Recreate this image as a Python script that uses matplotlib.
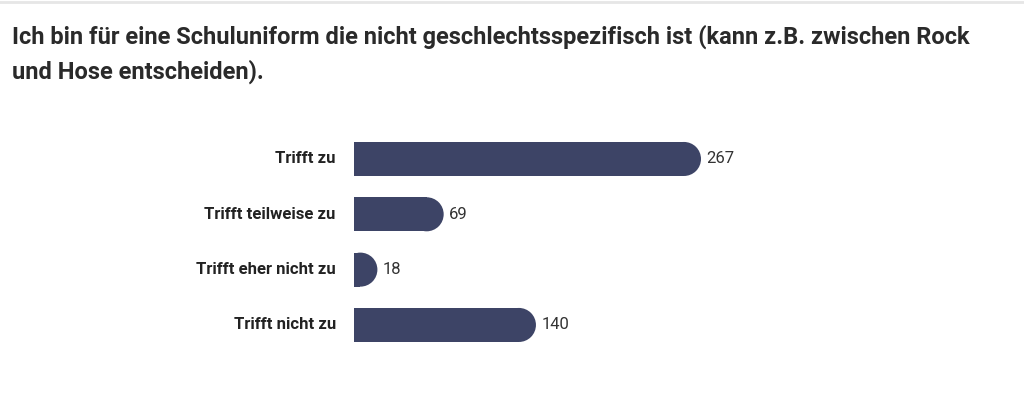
import matplotlib.pyplot as plt
from matplotlib.patches import Ellipse

categories = ["Trifft zu", "Trifft teilweise zu", "Trifft eher nicht zu", "Trifft nicht zu"]
values = [267, 69, 18, 140]
title = "Ich bin für eine Schuluniform die nicht geschlechtsspezifisch ist (kann z.B. zwischen Rock\nund Hose entscheiden)."

bar_color = "#3d4466"
plt.rcParams['font.family'] = ['Roboto', 'DejaVu Sans']

W, H = 1024, 395
fig = plt.figure(figsize=(W / 100, H / 100), dpi=100)
fig.patch.set_facecolor("white")

# axes placed in pixels so bar ends can be rounded
ax_left, ax_top = 354, 131.3
px_per_unit = 347 / 267
xmax = 320
ax_w = xmax * px_per_unit
row_px = 55.33
ax_h = 4 * row_px
ax = fig.add_axes([ax_left / W, (H - ax_top - ax_h) / H, ax_w / W, ax_h / H])
ax.set_xlim(0, xmax)
ax.set_ylim(3.5, -0.5)
ax.axis("off")

bar_h = 0.615
r_units = (bar_h * row_px / 2) / px_per_unit

for i, v in enumerate(values):
    flat = max(v - r_units, 0)
    ax.barh(i, flat, height=bar_h, color=bar_color, linewidth=0)
    ax.add_patch(Ellipse((flat, i), 2 * r_units, bar_h, color=bar_color, lw=0))
    ax.text(-14, i, categories[i], ha="right", va="center", fontsize=12,
            fontweight="bold", color="#222222")
    ax.text(v + 4, i, str(v), ha="left", va="center", fontsize=12, color="#333333")

fig.text(12 / W, 1 - 25 / H, title, ha="left", va="top", fontsize=17,
         fontweight="bold", color="#2a2a2a", linespacing=1.55)

fig.add_artist(plt.Line2D([0, 1], [1 - 1.5 / H, 1 - 1.5 / H], color="#e6e6e6", lw=2))

fig.savefig("out.png", dpi=100, facecolor="white")
